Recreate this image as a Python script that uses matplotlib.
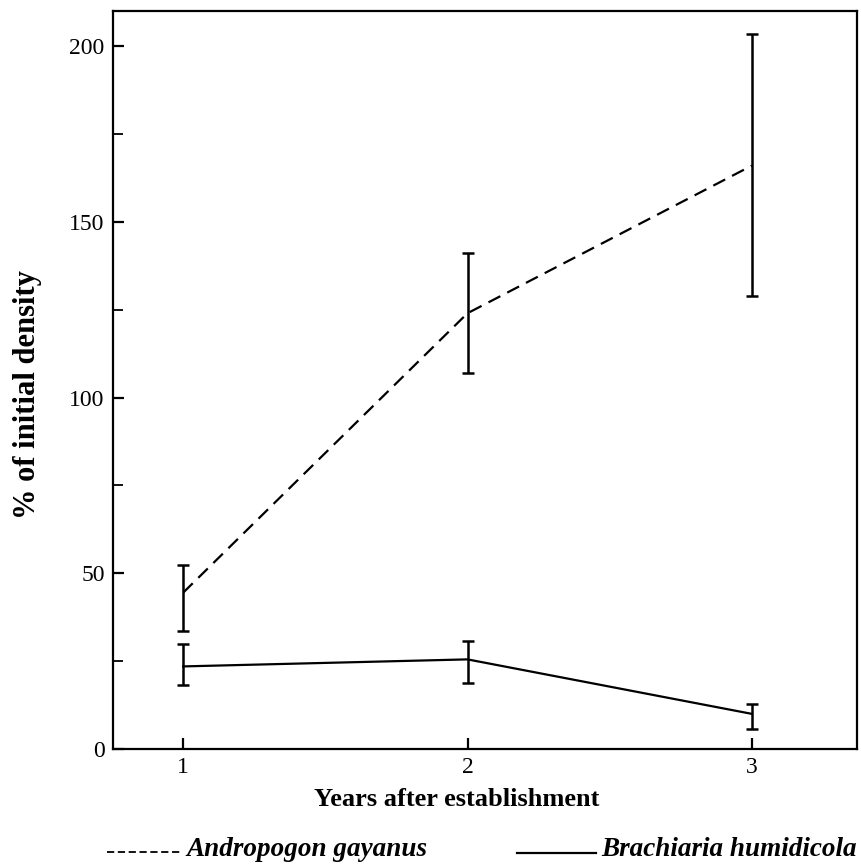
import matplotlib
matplotlib.use("Agg")
import matplotlib.pyplot as plt
from matplotlib.ticker import MultipleLocator
from matplotlib.lines import Line2D

years = [1, 2, 3]
andropogon_mean = [44.5, 124, 166]
andropogon_low = [33.5, 107, 129]
andropogon_high = [52.5, 141, 203.5]
brachiaria_mean = [23.5, 25.5, 10]
brachiaria_low = [18.3, 18.8, 5.6]
brachiaria_high = [29.9, 30.7, 12.7]

plt.rcParams['font.family'] = ['Liberation Serif', 'DejaVu Serif']

W, H = 861, 864
fig = plt.figure(figsize=(W/100, H/100), dpi=100)
ax = fig.add_axes([113/W, 1-749/H, (857-113)/W, (749-11)/H])

def errs(mean, low, high):
    return [[m - l for m, l in zip(mean, low)], [h - m for m, h in zip(mean, high)]]

ax.errorbar(years, andropogon_mean, yerr=errs(andropogon_mean, andropogon_low, andropogon_high),
            color='black', lw=1.6, ls=(0, (6, 3.5)), elinewidth=1.8, capsize=4, capthick=1.8)
ax.errorbar(years, brachiaria_mean, yerr=errs(brachiaria_mean, brachiaria_low, brachiaria_high),
            color='black', lw=1.6, ls='-', elinewidth=1.8, capsize=4, capthick=1.8)

ax.set_xlim(0.753, 3.37)
ax.set_ylim(0, 210)
ax.set_xticks(years)
ax.set_yticks([0, 50, 100, 150, 200])
ax.yaxis.set_minor_locator(MultipleLocator(25))
ax.tick_params(axis='both', which='major', direction='in', length=8, width=1.6,
               labelsize=17, pad=6)
ax.tick_params(axis='y', which='minor', direction='in', length=7, width=1.3)
ax.tick_params(top=False, right=False)
for s in ax.spines.values():
    s.set_linewidth(1.6)

# axis titles placed in figure pixels
fig.text(457/W, 1-800/H, 'Years after establishment', fontsize=19, fontweight='bold',
         ha='center', va='center')
fig.text(28/W, 1-395/H, '% of initial density', fontsize=22, fontweight='bold',
         ha='center', va='center', rotation=90)

# legend below the axes
fig.add_artist(Line2D([107/W, 180/W], [1-852/H, 1-852/H], color='black',
                      lw=1.3, ls=(0, (4, 2))))
fig.text(186/W, 1-849/H, 'Andropogon gayanus', fontsize=19.5, style='italic',
         fontweight='bold', va='center', ha='left')
fig.add_artist(Line2D([517/W, 596/W], [1-853/H, 1-853/H], color='black', lw=1.6))
fig.text(601/W, 1-849/H, 'Brachiaria humidicola', fontsize=19.5, style='italic',
         fontweight='bold', va='center', ha='left')

fig.savefig('out.png', dpi=100)
